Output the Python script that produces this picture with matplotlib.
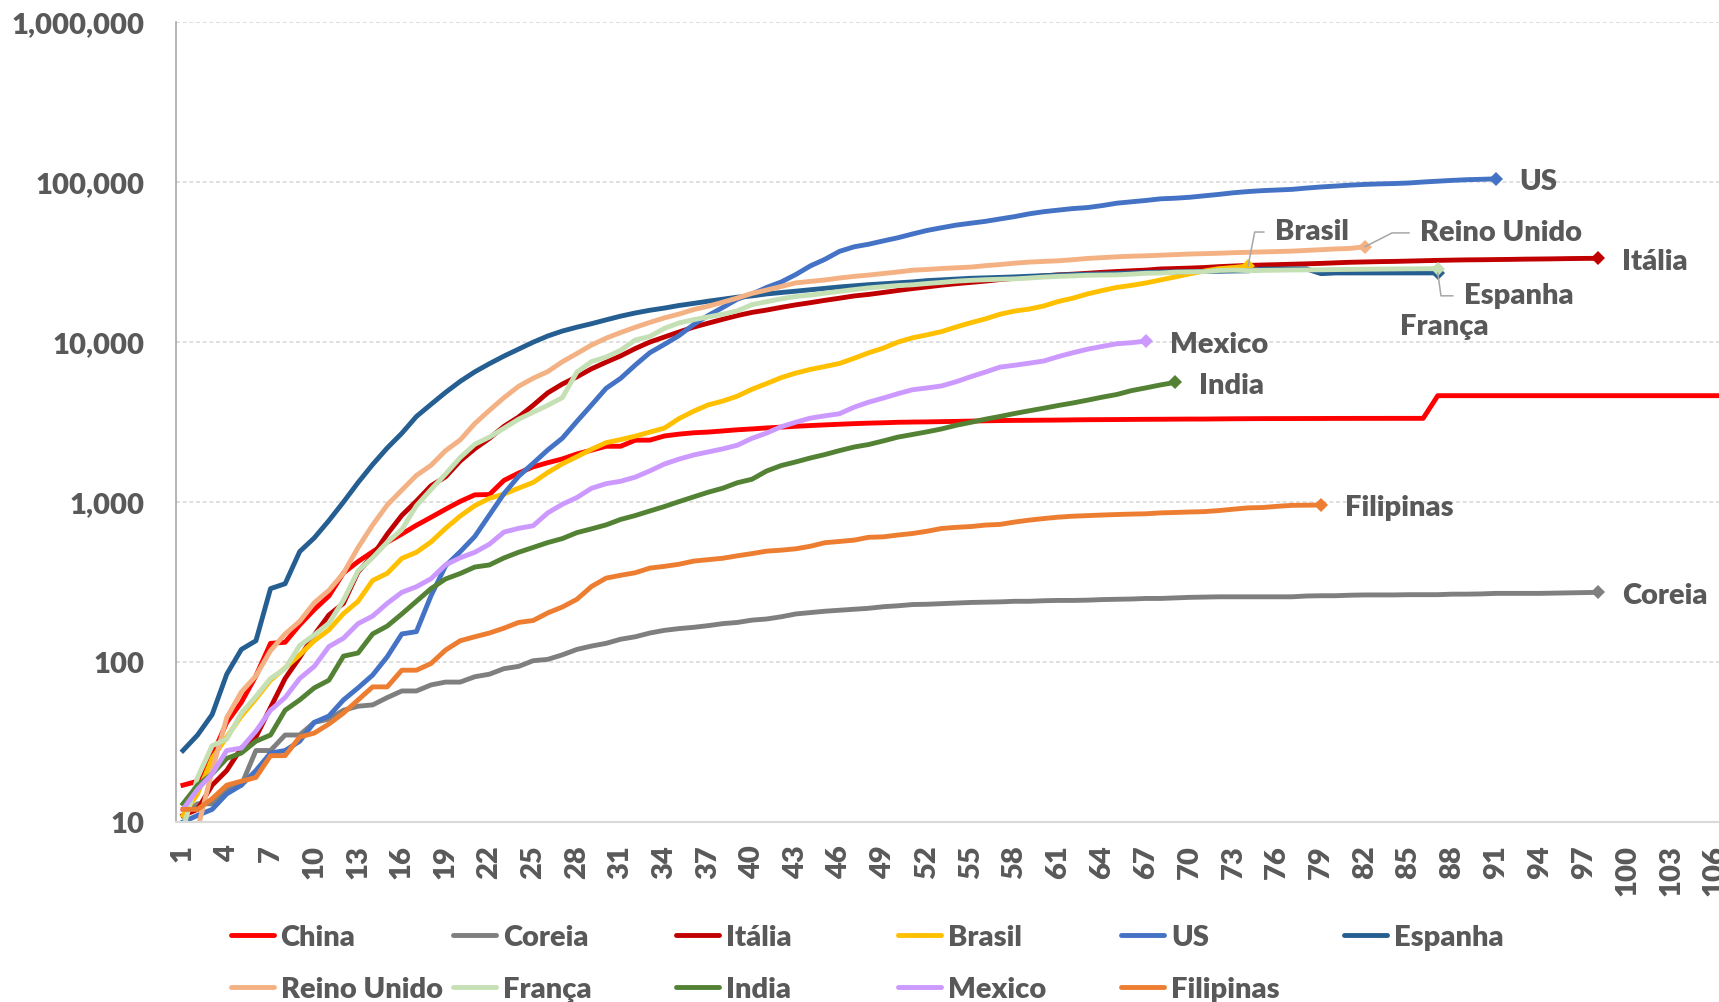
import numpy as np
import matplotlib.pyplot as plt
from matplotlib.lines import Line2D
from matplotlib.ticker import FixedLocator, FuncFormatter, NullLocator

plt.rcParams['font.family'] = ['Lato', 'DejaVu Sans']
plt.rcParams['font.weight'] = 'heavy'

# cumulative deaths per country, day 1 = first day of each series
china = [17, 18, 26, 42, 56, 82, 131, 133, 171, 213,
         259, 361, 425, 490, 562, 632, 717, 804, 904, 1011,
         1111, 1116, 1368, 1520, 1662, 1765, 1863, 2002, 2114, 2236,
         2236, 2441, 2443, 2593, 2663, 2715, 2744, 2788, 2835, 2870,
         2912, 2945, 2981, 3013, 3042, 3070, 3097, 3119, 3136, 3158,
         3169, 3176, 3189, 3199, 3213, 3226, 3237, 3245, 3249, 3255,
         3261, 3270, 3277, 3281, 3285, 3291, 3296, 3299, 3304, 3308,
         3309, 3316, 3322, 3326, 3330, 3331, 3333, 3335, 3336, 3339,
         3339, 3341, 3341, 3342, 3342, 3342, 4632, 4632, 4632, 4632,
         4632, 4632, 4632, 4632, 4632, 4632, 4632, 4632, 4632, 4632,
         4632, 4632, 4632, 4632, 4632, 4632, 4632]
coreia = [11, 13, 13, 16, 17, 28, 28, 35, 35, 42,
          44, 50, 53, 54, 60, 66, 66, 72, 75, 75,
          81, 84, 91, 94, 102, 104, 111, 120, 126, 131,
          139, 144, 152, 158, 162, 165, 169, 174, 177, 183,
          186, 192, 200, 204, 208, 211, 214, 217, 222, 225,
          229, 230, 232, 234, 236, 237, 238, 240, 240, 242,
          243, 243, 244, 246, 247, 248, 250, 250, 252, 254,
          255, 256, 256, 256, 256, 256, 256, 259, 260, 260,
          262, 263, 263, 263, 264, 264, 264, 266, 266, 267,
          269, 269, 269, 269, 270, 271, 272, 273]
italia = [11, 12, 17, 21, 29, 34, 52, 79, 107, 148,
          197, 233, 366, 463, 631, 827, 1016, 1266, 1441, 1809,
          2158, 2503, 2978, 3405, 4032, 4825, 5476, 6077, 6820, 7503,
          8215, 9134, 10023, 10779, 11591, 12428, 13155, 13915, 14681, 15362,
          15887, 16523, 17127, 17669, 18279, 18849, 19468, 19899, 20465, 21067,
          21645, 22170, 22745, 23227, 23660, 24114, 24648, 25085, 25549, 25969,
          26384, 26644, 26977, 27359, 27682, 27967, 28236, 28710, 28884, 29079,
          29315, 29684, 29958, 30201, 30395, 30560, 30739, 30911, 31106, 31368,
          31610, 31763, 31908, 32007, 32169, 32330, 32486, 32616, 32735, 32785,
          32877, 32955, 33072, 33142, 33229, 33340, 33415, 33475]
brasil = [11, 15, 25, 34, 46, 59, 77, 92, 111, 136,
          159, 201, 240, 324, 359, 445, 486, 564, 686, 819,
          950, 1057, 1124, 1223, 1328, 1532, 1736, 1924, 2141, 2354,
          2462, 2587, 2741, 2906, 3331, 3704, 4057, 4286, 4603, 5083,
          5513, 6006, 6412, 6761, 7051, 7367, 7938, 8588, 9190, 10017,
          10656, 11123, 11653, 12461, 13240, 13999, 14962, 15662, 16118, 16853,
          17983, 18859, 20047, 21048, 22013, 22666, 23473, 24512, 25598, 26754,
          27878, 28834, 29314, 29937]
us = [10, 11, 12, 15, 17, 21, 27, 28, 32, 42,
      46, 58, 69, 83, 108, 150, 155, 260, 400, 490,
      610, 830, 1130, 1450, 1750, 2120, 2510, 3200, 4050, 5150,
      5950, 7200, 8600, 9700, 11000, 12900, 14700, 16500, 18600, 20000,
      22000, 23800, 26500, 30000, 33000, 37000, 39500, 41000, 43000, 45000,
      47500, 50000, 52000, 54000, 55500, 57000, 59000, 61000, 63500, 65500,
      67000, 68500, 69500, 71500, 74000, 75500, 77000, 78800, 79500, 80600,
      82300, 84000, 86000, 87500, 88700, 89500, 90300, 92000, 93500, 94700,
      96000, 97000, 97700, 98200, 99000, 100400, 101600, 102800, 103800, 104400,
      105100]
espanha = [28, 35, 47, 84, 120, 136, 288, 309, 491, 598,
           767, 1002, 1326, 1720, 2182, 2696, 3434, 4089, 4858, 5690,
           6528, 7340, 8189, 9053, 10003, 10935, 11744, 12418, 13055, 13798,
           14555, 15238, 15843, 16353, 16972, 17489, 18056, 18579, 19130, 19478,
           20043, 20453, 20852, 21282, 21717, 22157, 22524, 22902, 23190, 23521,
           23822, 24275, 24543, 24824, 25100, 25264, 25428, 25613, 25857, 26070,
           26299, 26478, 26621, 26744, 26920, 27104, 27321, 27459, 27563, 27650,
           27709, 27778, 27888, 27940, 28628, 28678, 28752, 28752, 26834, 27117,
           27118, 27119, 27121, 27125, 27127, 27127, 27127]
reino_unido = [6, 9, 21, 45, 65, 82, 118, 150, 180, 235,
               281, 360, 520, 720, 960, 1190, 1470, 1700, 2100, 2450,
               3100, 3750, 4500, 5300, 5950, 6550, 7550, 8500, 9600, 10600,
               11500, 12400, 13300, 14200, 15000, 16000, 16800, 17800, 18900, 20200,
               21200, 22300, 23500, 24000, 24500, 25200, 25800, 26300, 26900, 27500,
               28200, 28500, 28900, 29200, 29500, 30100, 30600, 31200, 31700, 32000,
               32300, 32800, 33400, 33800, 34200, 34500, 34700, 35000, 35300, 35600,
               35800, 36000, 36300, 36500, 36700, 36900, 37100, 37500, 37900, 38300,
               38600, 39500]
franca = [9, 19, 30, 33, 48, 61, 79, 91, 127, 148,
          175, 244, 372, 450, 562, 674, 950, 1200, 1500, 1900,
          2300, 2550, 2900, 3300, 3650, 4032, 4503, 6507, 7560, 8078,
          8911, 10328, 10869, 12210, 13197, 13832, 14393, 14967, 15729, 17167,
          17920, 18681, 19323, 19718, 20265, 20796, 21340, 21856, 22245, 22614,
          22856, 23293, 23660, 24087, 24376, 24594, 24760, 24895, 25201, 25531,
          25809, 25987, 26230, 26310, 26380, 26643, 26991, 27074, 27425, 27529,
          27625, 28108, 28239, 28022, 28132, 28215, 28289, 28332, 28367, 28460,
          28530, 28596, 28662, 28714, 28771, 28802, 28833]
india = [13, 17, 20, 25, 27, 32, 35, 50, 58, 69,
         77, 109, 114, 150, 168, 200, 240, 288, 331, 358,
         393, 405, 448, 486, 521, 559, 592, 645, 681, 721,
         780, 825, 881, 939, 1008, 1079, 1154, 1223, 1323, 1391,
         1566, 1694, 1785, 1889, 1985, 2101, 2212, 2294, 2415, 2551,
         2649, 2753, 2871, 3025, 3156, 3302, 3434, 3584, 3726, 3868,
         4024, 4172, 4344, 4534, 4711, 4980, 5185, 5408, 5608]
mexico = [12, 16, 20, 28, 29, 37, 50, 60, 79, 94,
          125, 141, 174, 194, 233, 273, 296, 332, 406, 449,
          486, 546, 650, 686, 712, 857, 970, 1069, 1221, 1305,
          1351, 1434, 1569, 1732, 1859, 1972, 2061, 2154, 2271, 2507,
          2704, 2961, 3160, 3353, 3465, 3573, 3926, 4220, 4477, 4767,
          5045, 5177, 5332, 5666, 6090, 6510, 6989, 7179, 7394, 7633,
          8134, 8597, 9044, 9415, 9779, 9930, 10167]
filipinas = [12, 12, 14, 17, 18, 19, 26, 26, 34, 36,
             41, 48, 58, 70, 70, 89, 89, 98, 119, 136,
             144, 152, 163, 177, 182, 203, 221, 247, 297, 335,
             349, 362, 387, 397, 409, 428, 437, 446, 462, 477,
             494, 501, 511, 530, 558, 568, 579, 603, 607, 623,
             637, 658, 685, 696, 704, 719, 726, 751, 772, 790,
             806, 817, 824, 831, 837, 842, 846, 857, 862, 868,
             873, 886, 904, 921, 926, 942, 955, 957, 960]

series = [
    ('China', china, '#FF0000'),
    ('Coreia', coreia, '#7F7F7F'),
    ('Itália', italia, '#C00000'),
    ('Brasil', brasil, '#FFC000'),
    ('US', us, '#4472C4'),
    ('Espanha', espanha, '#255E91'),
    ('Reino Unido', reino_unido, '#F4B183'),
    ('França', franca, '#C5E0B4'),
    ('India', india, '#548235'),
    ('Mexico', mexico, '#CC99FF'),
    ('Filipinas', filipinas, '#ED7D31'),
]

# label offsets (points) from each series' last point, and leader line angles
label_offsets = {
    'US': (17, -2.5), 'Itália': (17, -2.5), 'Coreia': (17, -2.5),
    'Filipinas': (17, -2.5), 'India': (17, -2.5), 'Mexico': (17, -2.5),
    'Brasil': (19.5, 24.5), 'Reino Unido': (40, 10), 'Espanha': (19, -16.5),
    'França': (-27, -42),
}
leader_angles = {'Brasil': 79, 'Reino Unido': 27, 'Espanha': -82}

text_col = '#595959'
fs = 21

fig = plt.figure(figsize=(17.19, 10.02), dpi=100)
ax = fig.add_axes([0.1022, 0.1796, 0.8997, 0.7981])

for name, vals, col in series:
    x = np.arange(1, len(vals) + 1)
    if name == 'China':
        ax.plot(x, vals, color=col, lw=3.5, solid_joinstyle='round')
    else:
        ax.plot(x, vals, color=col, lw=3.5, solid_joinstyle='round',
                marker='D', markevery=[len(vals) - 1], ms=7.5, mew=0)

for name, vals, col in series:
    if name not in label_offsets:
        continue
    dx, dy = label_offsets[name]
    kw = {}
    if name in leader_angles:
        kw['arrowprops'] = dict(arrowstyle='-', color='#A6A6A6', lw=1.1,
                                shrinkA=6, shrinkB=0, relpos=(0, 0.5),
                                connectionstyle=f'angle,angleA=0,angleB={leader_angles[name]},rad=0')
    ax.annotate(name, xy=(len(vals), vals[-1]), xytext=(dx, dy),
                textcoords='offset points', ha='left', va='center',
                fontsize=fs, color=text_col, annotation_clip=False, **kw)

ax.set_yscale('log')
ax.set_ylim(10, 1e6)
ax.set_xlim(0.5, 106.5)
ax.yaxis.set_major_locator(FixedLocator([10, 100, 1000, 10000, 100000, 1000000]))
ax.yaxis.set_minor_locator(NullLocator())
ax.yaxis.set_major_formatter(FuncFormatter(lambda v, p: f'{v:,.0f}'))
ax.set_xticks(range(1, 107, 3))
ax.tick_params(axis='y', length=0, pad=22.5, labelsize=fs, labelcolor=text_col)
ax.tick_params(axis='x', length=0, pad=16.5, labelsize=fs, labelcolor=text_col,
               labelrotation=90)

ax.yaxis.grid(True, color='#D9D9D9', lw=1.2, linestyle=(0, (2.4, 1.6)))
ax.set_axisbelow(True)
for s in ['top', 'right']:
    ax.spines[s].set_visible(False)
ax.spines['bottom'].set_color('#D9D9D9')
ax.spines['bottom'].set_linewidth(1.5)
ax.spines['left'].set_color('#A0A0A0')
ax.spines['left'].set_linewidth(1.1)

# legend laid out as Excel does: six fixed-width columns, filled row by row
leg_x0, leg_dx = 230.5 / 1719, 222.6 / 1719
leg_len = 43 / 1719
leg_rows = [1 - 935 / 1002, 1 - 987 / 1002]
for i, (name, vals, col) in enumerate(series):
    row, c = divmod(i, 6)
    x0 = leg_x0 + c * leg_dx
    y0 = leg_rows[row]
    fig.add_artist(Line2D([x0, x0 + leg_len], [y0, y0], transform=fig.transFigure,
                          color=col, lw=3.5, solid_capstyle='round'))
    fig.text(x0 + 50 / 1719, y0 - 11 / 1002, name, ha='left', va='baseline',
             fontsize=fs, color=text_col)

fig.savefig('out.png', dpi=100)
